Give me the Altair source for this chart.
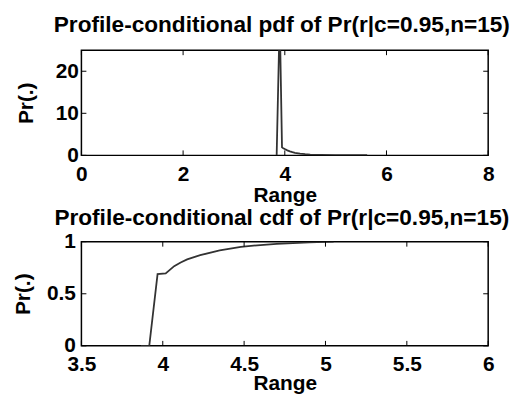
import altair as alt
import pandas as pd

# PDF panel data
pdf_x = [3.84, 3.90, 3.945, 3.97, 4.0, 4.05, 4.1, 4.15, 4.2, 4.3, 4.4, 4.5, 4.7, 5.0, 5.3, 5.62]
pdf_y = [0, 33, 1.9, 1.7, 1.5, 1.2, 0.95, 0.75, 0.6, 0.4, 0.28, 0.2, 0.12, 0.06, 0.04, 0.03]

# CDF panel data
cdf_x = [3.866, 3.917, 3.968, 4.018, 4.07, 4.11, 4.15, 4.23, 4.35, 4.48, 4.6, 4.7, 4.8, 4.9, 5.05]
cdf_y = [0, 0, 0.689, 0.695, 0.765, 0.80, 0.83, 0.87, 0.917, 0.95, 0.968, 0.978, 0.987, 0.993, 1.0]

pdf_xticks = [0, 2, 4, 6, 8]
pdf_yticks = [0, 10, 20]
cdf_xticks = [3.5, 4, 4.5, 5, 5.5, 6]
cdf_yticks = [0, 0.5, 1]

W = 410
T = 5
FONT = "Liberation Sans"


def panel(xs, ys, xdom, xticks, ydom, yticks, title, H, title_offset, ylab_pad, ytitle_x,
          xtitle_pad):
    df = pd.DataFrame({"x": xs, "y": ys})
    xs_ = alt.Scale(domain=xdom, nice=False, zero=False)
    ys_ = alt.Scale(domain=ydom, nice=False, zero=False)
    xax = alt.Axis(values=xticks, title="Range", ticks=False, domain=False, grid=False,
                   labelFlush=False, labelExpr="'' + datum.value",
                   labelPadding=8, titlePadding=xtitle_pad)
    yax = alt.Axis(values=yticks, title="Pr(.)", ticks=False, domain=False, grid=False,
                   labelFlush=False, labelExpr="'' + datum.value",
                   labelPadding=ylab_pad, titleX=ytitle_x, titleY=H / 2,
                   titleAnchor="middle", titleBaseline="bottom", titleAngle=270)
    main = alt.Chart(df).mark_line(color="#333333", strokeWidth=1.8, clip=True).encode(
        x=alt.X("x:Q", scale=xs_, axis=xax),
        y=alt.Y("y:Q", scale=ys_, axis=yax),
    )
    xt = pd.DataFrame({"x": xticks})
    yt = pd.DataFrame({"y": yticks})
    rx = alt.Chart(xt).mark_rule(color="black", strokeWidth=1)
    ry = alt.Chart(yt).mark_rule(color="black", strokeWidth=1)
    xb = rx.encode(x=alt.X("x:Q", scale=xs_, axis=xax), y=alt.value(H), y2=alt.value(H - T))
    xtp = rx.encode(x=alt.X("x:Q", scale=xs_, axis=xax), y=alt.value(0), y2=alt.value(T))
    yl = ry.encode(y=alt.Y("y:Q", scale=ys_, axis=yax), x=alt.value(0), x2=alt.value(T))
    yr = ry.encode(y=alt.Y("y:Q", scale=ys_, axis=yax), x=alt.value(W), x2=alt.value(W - T))
    return alt.layer(main, xb, xtp, yl, yr).properties(
        width=W, height=H,
        title=alt.TitleParams(title, fontSize=22.8, font=FONT, fontWeight="bold", color="black",
                              anchor="middle", offset=title_offset, dx=-3),
    )


top = panel(pdf_x, pdf_y, [0, 8], pdf_xticks, [0, 25], pdf_yticks,
            "Profile-conditional pdf of Pr(r|c=0.95,n=15)", 106, 13, 3, -45, 0)
bottom = panel(cdf_x, cdf_y, [3.5, 6], cdf_xticks, [0, 1], cdf_yticks,
               "Profile-conditional cdf of Pr(r|c=0.95,n=15)", 105, 1, 6, -48, -2)

chart = alt.vconcat(top, bottom, spacing=0).properties(
    padding={"left": 4, "top": 3, "right": 0, "bottom": 0},
    background="white",
).configure_view(stroke="black", strokeWidth=1.5).configure_axis(
    labelFont=FONT, labelFontSize=21, labelFontWeight="bold", labelColor="black",
    titleFont=FONT, titleFontSize=21, titleFontWeight="bold", titleColor="black",
)

chart.save("out.html", embed_options={"renderer": "svg", "actions": False})
